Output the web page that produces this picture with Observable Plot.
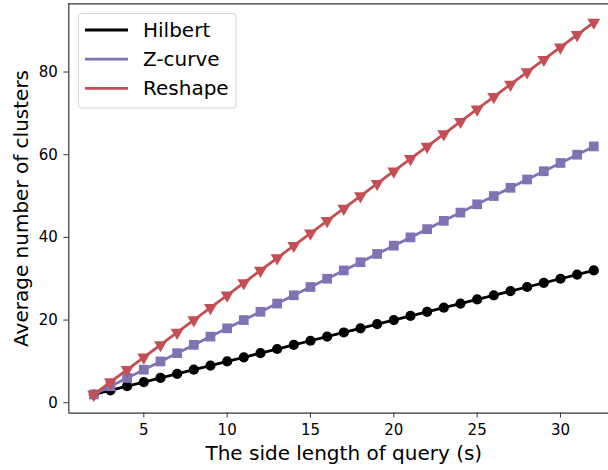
<!DOCTYPE html>
<html>
<head>
<meta charset="utf-8">
<script src="https://cdn.jsdelivr.net/npm/d3@7"></script>
<script src="https://cdn.jsdelivr.net/npm/@observablehq/plot@0.6"></script>
<style>
  html, body { margin: 0; padding: 0; background: #fff; }
  #chart { width: 608px; height: 470px; overflow: hidden; }
</style>
</head>
<body>
<div id="chart"></div>
<script>
const sideLengths = [2,3,4,5,6,7,8,9,10,11,12,13,14,15,16,17,18,19,20,21,22,23,24,25,26,27,28,29,30,31,32];
const hilbert = [2,3,4,5,6,7,8,9,10,11,12,13,14,15,16,17,18,19,20,21,22,23,24,25,26,27,28,29,30,31,32];
const zcurve = [2,4,6,8,10,12,14,16,18,20,22,24,26,28,30,32,34,36,38,40,42,44,46,48,50,52,54,56,58,60,62];
const reshape = [2,5,8,11,14,17,20,23,26,29,32,35,38,41,44,47,50,53,56,59,62,65,68,71,74,77,80,83,86,89,92];
const seriesNames = ["Hilbert", "Z-curve", "Reshape"];
const seriesColors = ["#000000", "#8172b3", "#c44e52"];
const xTicks = [5, 10, 15, 20, 25, 30];
const yTicks = [0, 20, 40, 60, 80];
const xLabel = "The side length of query (s)";
const yLabel = "Average number of clusters";

const seriesValues = [hilbert, zcurve, reshape];
const rows = seriesNames.map((name, i) =>
  sideLengths.map((s, j) => ({series: name, s, v: seriesValues[i][j]})));

const xDomain = [0.5, 33.5];
const yDomain = [-2.5, 96.5];
const font = "DejaVu Sans, sans-serif";

const symbolSpecs = [
  {symbol: "circle", r: 5.1, rotate: 0},
  {symbol: "square", r: 5.5, rotate: 0},
  {symbol: "triangle", r: 4.8, rotate: 180}
];

const seriesMarks = [];
rows.forEach((data, i) => {
  seriesMarks.push(Plot.line(data, {x: "s", y: "v", stroke: seriesColors[i], strokeWidth: 2.8}));
  seriesMarks.push(Plot.dot(data, {x: "s", y: "v", fill: seriesColors[i], stroke: "none",
    symbol: symbolSpecs[i].symbol, r: symbolSpecs[i].r, rotate: symbolSpecs[i].rotate}));
});

const plot = Plot.plot({
  width: 608,
  height: 470,
  marginLeft: 68.3,
  marginRight: -10.3,
  marginTop: 3.3,
  marginBottom: 57.4,
  style: {fontFamily: font, background: "#fff", color: "#000"},
  x: {domain: xDomain},
  y: {domain: yDomain},
  marks: [
    Plot.axisX({ticks: xTicks, tickSize: 5, tickPadding: 6, fontSize: 15, label: null, stroke: "#333"}),
    Plot.axisY({ticks: yTicks, tickSize: 5, tickPadding: 6, fontSize: 15, label: null, stroke: "#333"}),
    Plot.ruleY([yDomain[0]], {stroke: "#333", strokeWidth: 1.2}),
    Plot.ruleY([yDomain[1]], {stroke: "#333", strokeWidth: 1.2}),
    Plot.ruleX([xDomain[0]], {stroke: "#333", strokeWidth: 1.2}),
    ...seriesMarks,
    Plot.text([xLabel], {frameAnchor: "bottom", textAnchor: "middle", lineAnchor: "middle", dy: 40.5, fontSize: 20, fill: "#000"}),
    Plot.text([yLabel], {frameAnchor: "left", textAnchor: "middle", lineAnchor: "middle", rotate: -90, dx: -47.5, fontSize: 20, fill: "#000"})
  ]
});

// Legend
const svg = d3.select(plot);
const lg = svg.append("g").attr("font-family", font).attr("text-anchor", "start");
lg.append("rect").attr("x", 78.5).attr("y", 13.5).attr("width", 157.5).attr("height", 94.5)
  .attr("rx", 3).attr("fill", "#fff").attr("fill-opacity", 0.8).attr("stroke", "#d6d6d6").attr("stroke-width", 1);
seriesNames.forEach((name, i) => {
  const cy = 30 + i * 29.2;
  lg.append("line").attr("x1", 85).attr("x2", 128).attr("y1", cy).attr("y2", cy)
    .attr("stroke", seriesColors[i]).attr("stroke-width", 2.8);
  lg.append("text").attr("x", 143).attr("y", cy).attr("dy", "0.35em")
    .attr("text-anchor", "start").attr("font-size", 20).attr("fill", "#000").text(name);
});

document.getElementById("chart").appendChild(plot);
</script>
</body>
</html>
